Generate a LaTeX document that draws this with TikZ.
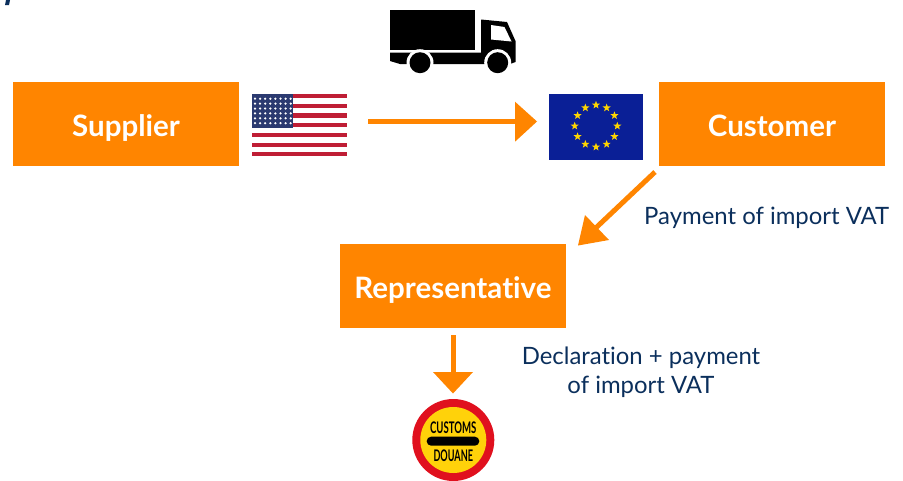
\documentclass[tikz,border=0pt]{standalone}
\usetikzlibrary{shapes.geometric}
\usepackage{fontspec}
\setmainfont[Ligatures=NoCommon]{Lato}
\definecolor{orng}{HTML}{FF8500}
\definecolor{navy}{HTML}{0B2F5C}
\definecolor{flagred}{HTML}{BF1E35}
\definecolor{flagblue}{HTML}{2B3A70}
\definecolor{eublue}{HTML}{0A1F96}
\definecolor{eustar}{HTML}{FFD500}
\definecolor{signred}{HTML}{E0101E}
\definecolor{signyel}{HTML}{FFD20A}
\tikzset{
 orbox/.style={fill=orng,draw=none,minimum width=226pt,minimum height=84pt,inner sep=0pt,text=white,text height=30pt,text depth=5pt,font=\fontsize{29.5}{32}\selectfont\bfseries},
 lab/.style={text=navy,font=\fontsize{23.9}{29.5}\selectfont,align=center,inner sep=0pt},
 orarrow/.style={draw=orng,line width=5pt},
 orhead/.style={fill=orng,draw=none},
 signtxt/.style={inner sep=0pt,font=\fontsize{16}{17}\selectfont\bfseries,text=black}
}
\begin{document}
\begin{tikzpicture}[x=1pt,y=-1pt]
\useasboundingbox (0,0) rectangle (903,480);
\clip (0,0) rectangle (903,480);
% clipped remnant of a title at the top edge
\fill[navy] (6,0) -- (10,0) -- (9,5) -- (5,5) -- cycle;
% boxes
\node[orbox] (sup) at (126,124) {Supplier};
\node[orbox] (cus) at (772,124) {Customer};
\node[orbox] (rep) at (453,286) {Representative};
% US flag
\foreach \i in {0,2,...,12} \fill[flagred] (252,{94+\i*4.85}) rectangle (347,{94+(\i+1)*4.85-.6});
\fill[flagblue] (252,94) rectangle (293,128);
\foreach \c in {0,...,7} \foreach \r in {0,...,5}
  \fill[white] ({255+\c*5.1},{98.7+\r*4.9}) circle (1.25);
% EU flag
\fill[eublue] (549,93.5) rectangle (643,159.5);
\foreach \a in {0,30,...,330}
  \node[star,star points=5,star point ratio=2.4,fill=eustar,draw=none,inner sep=0pt,minimum size=8.5pt] at ({596+21.3*cos(\a)},{126+21*sin(\a)}) {};
% truck
\fill[black] (390,9.5) rectangle (475,50);
\fill[black] (390,52.5) -- (390,61) -- (400,64) -- (510,64) -- (515.5,62) -- (515.5,41) -- (507,22) -- (481,19.5) -- (481,52.5) -- cycle;
\fill[white] (491,25) -- (504.5,27) -- (511.5,41.5) -- (491,39.5) -- cycle;
\fill[white] (420,62.7) circle (13.5) (497.7,62.7) circle (13.5);
\fill[black] (420,62.7) circle (10.5) (497.7,62.7) circle (10.5);
% arrows
\coordinate (a1s) at (368,121.5);
\coordinate (a1t) at (516,121.5);
\draw[orarrow] (a1s) -- (a1t);
\fill[orhead] (515,101.7) -- (537,121.5) -- (515,141.7) -- cycle;
\coordinate (a2s) at (655,172);
\coordinate (a2t) at (592,231.5);
\draw[orarrow] (a2s) -- (a2t);
\fill[orhead] (578,245.5) -- (585,215) -- (609,240) -- cycle;
\coordinate (a3s) at (453,335);
\coordinate (a3t) at (453,373);
\draw[orarrow] (a3s) -- (a3t);
\fill[orhead] (433,372) -- (473,372) -- (453,393.5) -- cycle;
% labels
\node[lab,anchor=west] (l1) at (644,218) {Payment of import VAT};
\node[lab] (l2) at (641,372) {Declaration + payment\\of import VAT};
% sign
\fill[signred] (453.3,440) circle (41);
\fill[signyel] (453.3,440) circle (33);
\fill[black,rounded corners=4.4pt] (426.7,436.7) rectangle (479.3,445.7);
\node[signtxt] (s1) at (453.3,427.7) {\scalebox{.6}[1]{CUSTOMS}};
\node[signtxt] (s2) at (453.3,455.5) {\scalebox{.57}[1]{DOUANE}};
\end{tikzpicture}
\end{document}
